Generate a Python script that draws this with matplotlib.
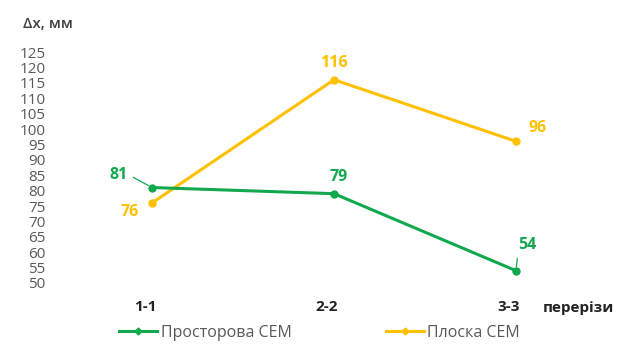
import matplotlib
matplotlib.use('Agg')
import matplotlib.pyplot as plt
import matplotlib.transforms as mtransforms
from matplotlib.lines import Line2D

# data
sections = ['1-1', '2-2', '3-3']
spatial = [81, 79, 54]     # Просторова СЕМ
planar = [76, 116, 96]     # Плоска СЕМ
y_ticks = list(range(50, 130, 5))

green = '#12a84e'
gold = '#ffc000'
grey = '#595959'

plt.rcParams['font.family'] = ['Open Sans', 'DejaVu Sans']

fig = plt.figure(figsize=(6.29, 3.45), dpi=100)
ax = fig.add_axes([61 / 629, 1 - 283 / 345, 546 / 629, 231 / 345])

x = list(range(len(sections)))
ax.plot(x, spatial, color=green, lw=2.2, marker='o', ms=5, zorder=3)
ax.plot(x, planar, color=gold, lw=2.2, marker='o', ms=5, zorder=2)

ax.set_xlim(-0.5, 2.5)
ax.set_ylim(50, 125)
ax.set_yticks(y_ticks)
ax.set_xticks(x)
ax.set_xticklabels(sections, fontweight='bold', fontsize=11, color='#222222')
ax.tick_params(axis='y', length=0, pad=11, labelsize=11, labelcolor=grey)
ax.tick_params(axis='x', length=0, pad=12)
for s in ax.spines.values():
    s.set_visible(False)
# category labels sit a little left of the points
shift = mtransforms.ScaledTranslation(-7 / 100, 0, fig.dpi_scale_trans)
for lbl in ax.get_xticklabels():
    lbl.set_transform(lbl.get_transform() + shift)

# data labels (offsets in pixels)
g_off = [(-33, 13), (5, 17), (11, 26)]
g_lead = [True, False, True]
for xi, v, off, lead in zip(x, spatial, g_off, g_lead):
    ap = None
    if lead:
        ap = dict(arrowstyle='-', color=green, lw=0.9, shrinkA=2, shrinkB=3,
                  relpos=(1, 0.5) if off[0] < 0 else (0, 0))
    ax.annotate(str(v), (xi, v), xytext=off, textcoords='offset pixels',
                ha='center', va='center', color=green, fontsize=11.5,
                fontweight='bold', arrowprops=ap)

p_off = [(-22, -9), (0, 17), (22, 13)]
for xi, v, off in zip(x, planar, p_off):
    ax.annotate(str(v), (xi, v), xytext=off, textcoords='offset pixels',
                ha='center', va='center', color=gold, fontsize=11.5,
                fontweight='bold')

fig.text(23 / 629, 1 - 24 / 345, 'Δx, мм', fontsize=11, fontweight='semibold',
         color='#404040', va='center')
fig.text(578 / 629, 1 - 308 / 345, 'перерізи', fontsize=11, fontweight='bold',
         color='#222222', ha='center', va='center')

handles = [Line2D([], [], color=green, lw=2.2, marker='D', ms=3.5),
           Line2D([], [], color=gold, lw=2.2, marker='D', ms=3.5)]
fig.legend(handles, ['Просторова СЕМ', 'Плоска СЕМ'], loc='center',
           bbox_to_anchor=(0.508, 1 - 333 / 345), ncol=2, frameon=False,
           handlelength=2.4, handletextpad=0.2, columnspacing=5.9,
           prop={'size': 11.5}, labelcolor=grey)

fig.savefig('out.png', dpi=100)
